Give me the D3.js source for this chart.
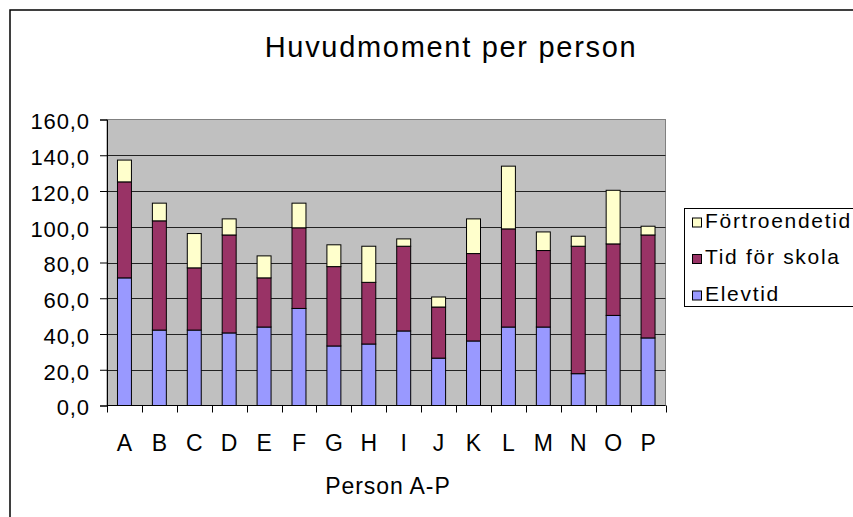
<!DOCTYPE html>
<html>
<head>
<meta charset="utf-8">
<script src="https://cdn.jsdelivr.net/npm/d3@7"></script>
<style>
  html, body { margin: 0; padding: 0; background: #fff; }
  svg { display: block; }
</style>
</head>
<body>
<div id="chart"></div>
<script>
// data
var persons = ["A", "B", "C", "D", "E", "F", "G", "H", "I", "J", "K", "L", "M", "N", "O", "P"];
var elevtid = [71.4, 42.2, 42.2, 40.6, 43.9, 54.3, 33.3, 34.4, 41.7, 26.5, 36.1, 43.9, 43.9, 17.8, 50.4, 37.8];
var tidForSkola = [53.7, 61.1, 34.8, 54.8, 27.5, 45.1, 44.4, 34.5, 47.4, 28.6, 48.9, 54.9, 42.8, 71.3, 40.0, 57.6];
var fortroendetid = [12.2, 9.9, 19.2, 9.0, 12.3, 13.8, 12.2, 20.2, 4.1, 5.6, 19.4, 35.1, 10.4, 5.6, 30.0, 4.9];
var seriesNames = ["Elevtid", "Tid för skola", "Förtroendetid"];
var yTicks = [0, 20, 40, 60, 80, 100, 120, 140, 160];

var width = 853, height = 517;
var font = "'Liberation Sans', Arial, sans-serif";
var color = {"Elevtid": "#9999ff", "Tid för skola": "#993366", "Förtroendetid": "#ffffcc"};
var plot = {left: 107, right: 665.5, top: 119.5, bottom: 405.5};

var rows = persons.map(function (p, i) {
  return {name: p, "Elevtid": elevtid[i], "Tid för skola": tidForSkola[i], "Förtroendetid": fortroendetid[i]};
});
var stacked = d3.stack().keys(seriesNames)(rows);

var x = d3.scaleBand()
    .domain(persons)
    .range([plot.left, plot.right])
    .paddingInner(0.6)
    .paddingOuter(0.3);
var y = d3.scaleLinear()
    .domain([0, 160])
    .range([plot.bottom, plot.top]);

var svg = d3.select("#chart").append("svg")
    .attr("width", width)
    .attr("height", height);

// chart border (only left and top are inside the picture)
svg.append("rect")
    .attr("x", 10).attr("y", 10)
    .attr("width", 900).attr("height", 600)
    .attr("fill", "#fff")
    .attr("stroke", "#000")
    .attr("stroke-width", 1.5);

// title
svg.append("text")
    .attr("x", 451)
    .attr("y", 57)
    .attr("text-anchor", "middle")
    .attr("font-family", font)
    .attr("font-size", "29px")
    .attr("letter-spacing", "1.7px")
    .attr("fill", "#000")
    .text("Huvudmoment per person");

// plot area
svg.append("rect")
    .attr("x", plot.left).attr("y", plot.top)
    .attr("width", plot.right - plot.left)
    .attr("height", plot.bottom - plot.top)
    .attr("fill", "#c0c0c0")
    .attr("stroke", "#808080")
    .attr("stroke-width", 1);

// grid lines
svg.append("g").selectAll("line")
    .data(yTicks.slice(1, -1))
  .enter().append("line")
    .attr("x1", plot.left)
    .attr("x2", plot.right)
    .attr("y1", function (d) { return Math.round(y(d)) + 0.5; })
    .attr("y2", function (d) { return Math.round(y(d)) + 0.5; })
    .attr("stroke", "#222")
    .attr("stroke-width", 1);

// bars
svg.append("g").selectAll("g")
    .data(stacked)
  .enter().append("g")
    .attr("fill", function (s) { return color[s.key]; })
  .selectAll("rect")
    .data(function (s) { return s; })
  .enter().append("rect")
    .attr("x", function (d) { return x(d.data.name); })
    .attr("y", function (d) { return y(d[1]); })
    .attr("width", x.bandwidth())
    .attr("height", function (d) { return y(d[0]) - y(d[1]); })
    .attr("stroke", "#000")
    .attr("stroke-width", 1);

// y axis
var yAxis = svg.append("g")
    .attr("transform", "translate(" + plot.left + ",0)")
    .call(d3.axisLeft(y)
      .tickValues(yTicks)
      .tickSize(7)
      .tickPadding(10)
      .tickFormat(function (d) { return d.toFixed(1).replace(".", ","); }));
yAxis.select(".domain").attr("stroke", "#000");
yAxis.selectAll(".tick line").attr("stroke", "#000");
yAxis.selectAll("text")
    .attr("font-family", font)
    .attr("font-size", "22px")
    .attr("letter-spacing", "0.9px")
    .attr("fill", "#000")
    .attr("dy", "0.42em");

// x axis line and boundary ticks
svg.append("line")
    .attr("x1", plot.left).attr("x2", plot.right)
    .attr("y1", plot.bottom).attr("y2", plot.bottom)
    .attr("stroke", "#000");
svg.append("g").selectAll("line")
    .data(d3.range(persons.length + 1))
  .enter().append("line")
    .attr("x1", function (i) { return Math.round(plot.left + i * x.step()) + 0.5; })
    .attr("x2", function (i) { return Math.round(plot.left + i * x.step()) + 0.5; })
    .attr("y1", plot.bottom)
    .attr("y2", plot.bottom + 7)
    .attr("stroke", "#000");

// x labels
svg.append("g").selectAll("text")
    .data(persons)
  .enter().append("text")
    .attr("x", function (d) { return x(d) + x.bandwidth() / 2; })
    .attr("y", 451)
    .attr("text-anchor", "middle")
    .attr("font-family", font)
    .attr("font-size", "23px")
    .attr("fill", "#000")
    .text(function (d) { return d; });

// x axis title
svg.append("text")
    .attr("x", 388)
    .attr("y", 494)
    .attr("text-anchor", "middle")
    .attr("font-family", font)
    .attr("font-size", "23px")
    .attr("letter-spacing", "0.9px")
    .attr("fill", "#000")
    .text("Person A-P");

// legend
var legend = svg.append("g");
legend.append("rect")
    .attr("x", 684.5).attr("y", 208.5)
    .attr("width", 220).attr("height", 98)
    .attr("fill", "#fff")
    .attr("stroke", "#000")
    .attr("stroke-width", 1);
var entries = legend.selectAll("g.entry")
    .data(seriesNames.slice().reverse())
  .enter().append("g")
    .attr("class", "entry")
    .attr("transform", function (d, i) { return "translate(0," + (227.5 + i * 36.5) + ")"; });
entries.append("rect")
    .attr("x", 692.5).attr("y", -9.5)
    .attr("width", 9).attr("height", 9)
    .attr("fill", function (d) { return color[d]; })
    .attr("stroke", "#000")
    .attr("stroke-width", 1);
entries.append("text")
    .attr("x", 705)
    .attr("y", 0)
    .attr("font-family", font)
    .attr("font-size", "21px")
    .attr("letter-spacing", "1.7px")
    .attr("fill", "#000")
    .text(function (d) { return d; });
</script>
</body>
</html>
